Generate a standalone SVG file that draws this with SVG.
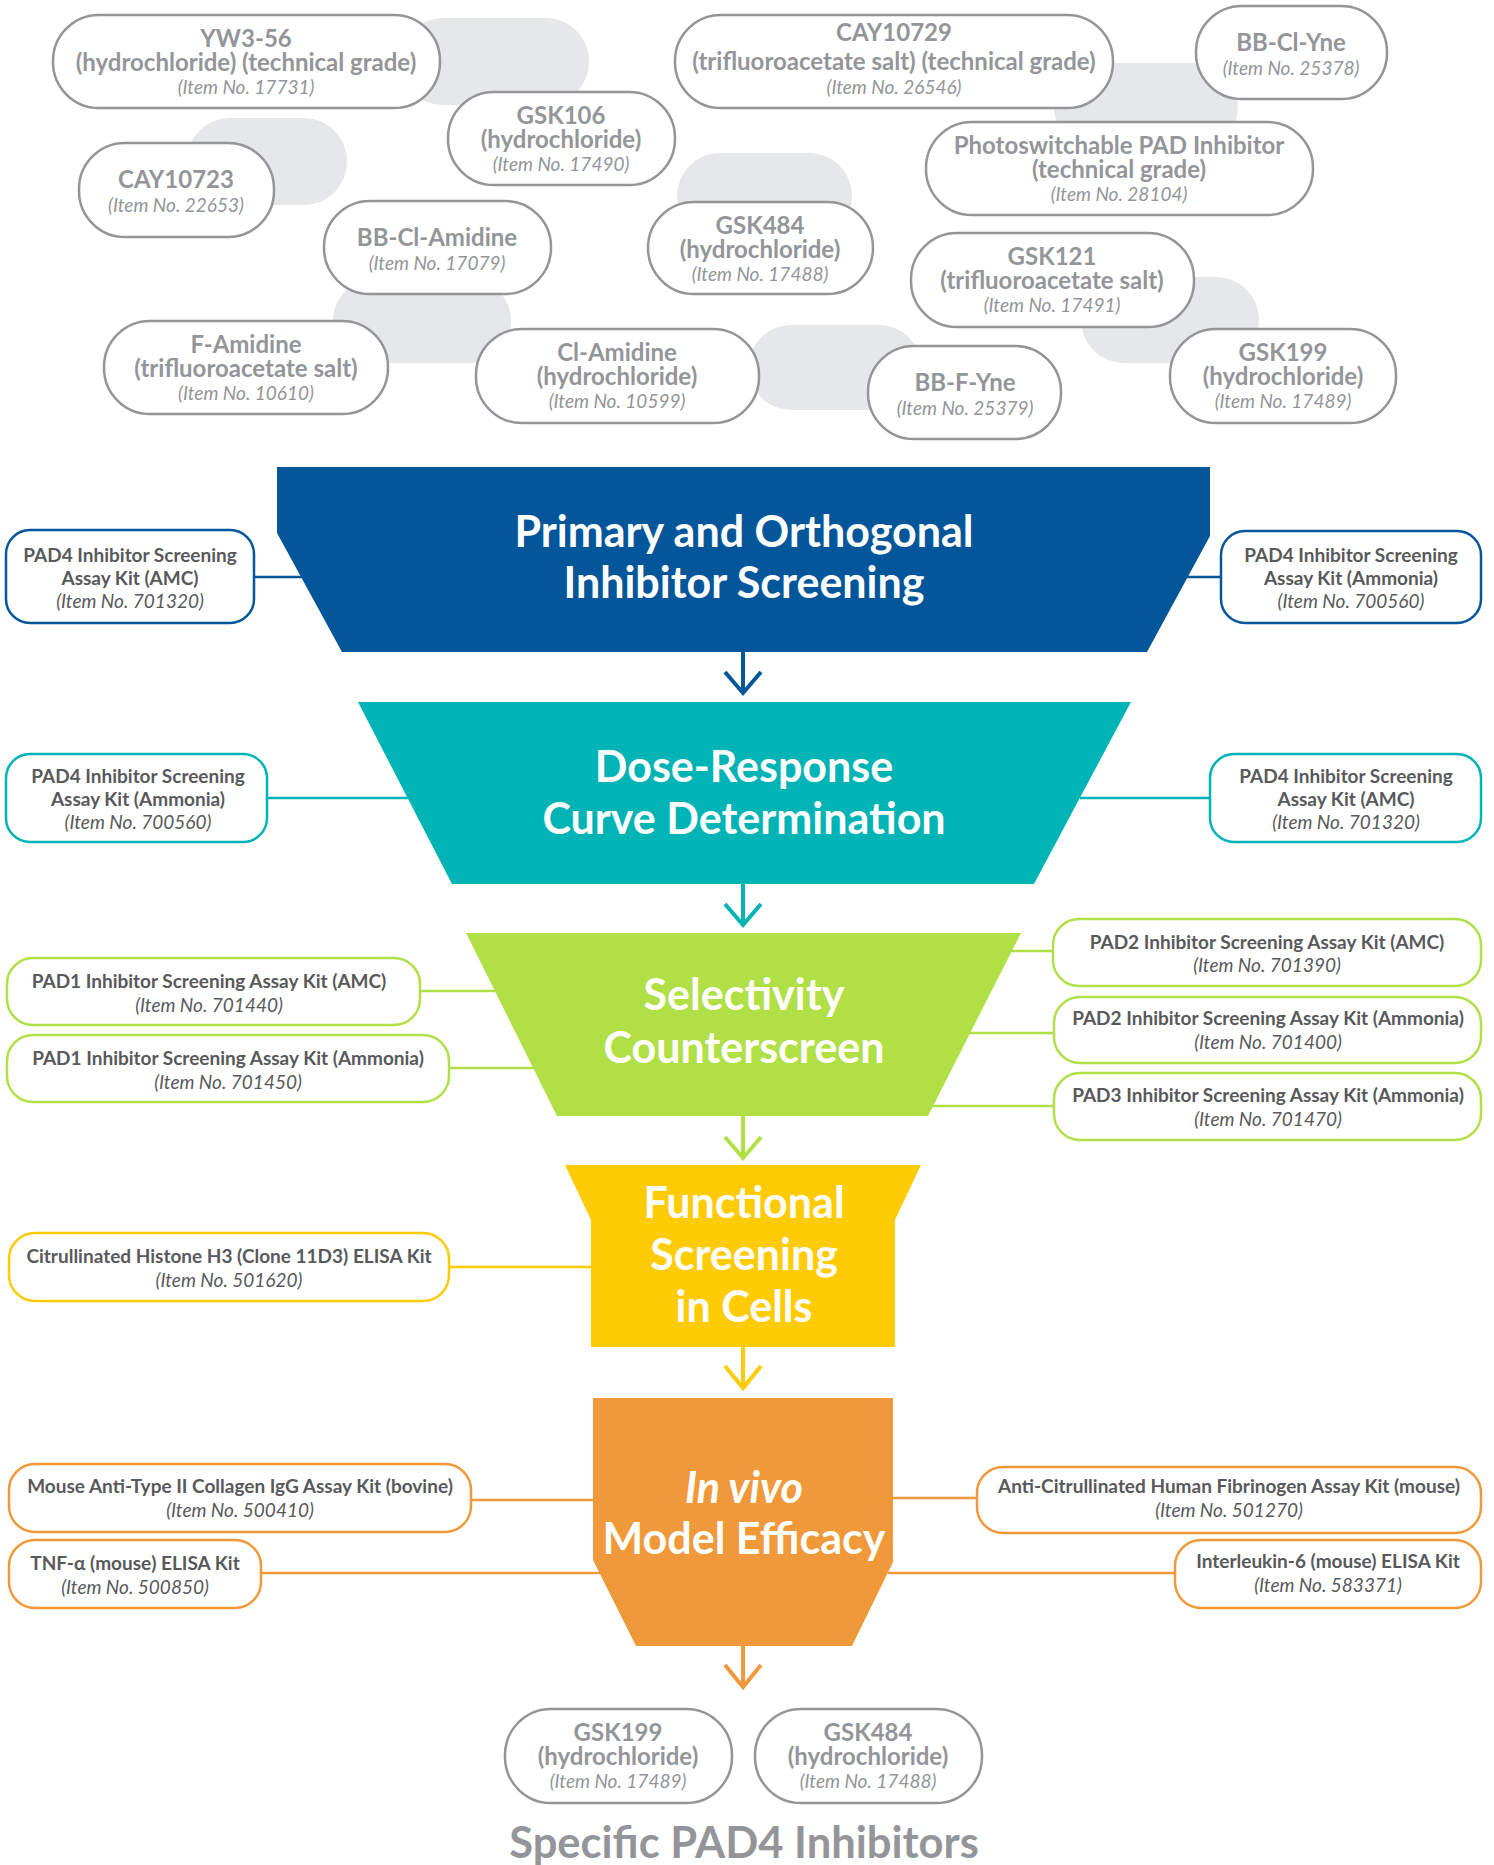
<svg xmlns="http://www.w3.org/2000/svg" width="1494" height="1865" viewBox="0 0 1494 1865">
<style>
.blob{fill:#e6e7e8}
.pill{fill:#fff;stroke:#939598;stroke-width:2.5}
.pn{font-family:Lato,"Liberation Sans",sans-serif;font-weight:700;font-size:24px;fill:#939598;text-anchor:middle}
.pi{font-family:Lato,"Liberation Sans",sans-serif;font-style:italic;font-size:19px;fill:#939598;text-anchor:middle}
.kn{font-family:Lato,"Liberation Sans",sans-serif;font-weight:700;font-size:19px;fill:#58595b;text-anchor:middle}
.ki{font-family:Lato,"Liberation Sans",sans-serif;font-style:italic;font-size:19px;fill:#58595b;text-anchor:middle}
.tt{font-family:Lato,"Liberation Sans",sans-serif;font-weight:700;font-size:43px;fill:#fff;text-anchor:middle}
.box{fill:#fff;stroke-width:2.5}
.blue{stroke:#04569a}.teal{stroke:#00b3b5}.green{stroke:#b0e045}.yellow{stroke:#ffcb05}.orange{stroke:#f0993a}
.ln{fill:none;stroke-width:2.5}
.ar{fill:none;stroke-width:4;stroke-linecap:butt}
</style>
<rect width="1494" height="1865" fill="#fff"/>

<g id="blobs">
<rect class="blob" x="400" y="18" width="189" height="87" rx="43"/>
<rect class="blob" x="187" y="118" width="160" height="87" rx="43"/>
<rect class="blob" x="333" y="280" width="178" height="83" rx="40"/>
<rect class="blob" x="677" y="153" width="175" height="87" rx="43"/>
<rect class="blob" x="1054" y="63" width="184" height="87" rx="43"/>
<rect class="blob" x="749" y="325" width="172" height="85" rx="42"/>
<rect class="blob" x="1081" y="277" width="178" height="86" rx="43"/>
</g>

<g id="connectors">
<line class="ln blue" x1="254" y1="577" x2="302" y2="577"/>
<line class="ln blue" x1="1187" y1="577" x2="1221" y2="577"/>
<line class="ln teal" x1="267" y1="798" x2="408" y2="798"/>
<line class="ln teal" x1="1080" y1="798" x2="1210" y2="798"/>
<line class="ln green" x1="420" y1="991" x2="496" y2="991"/>
<line class="ln green" x1="449" y1="1068" x2="534" y2="1068"/>
<line class="ln green" x1="1011" y1="951" x2="1053" y2="951"/>
<line class="ln green" x1="969" y1="1033" x2="1054" y2="1033"/>
<line class="ln green" x1="932" y1="1106" x2="1054" y2="1106"/>
<line class="ln yellow" x1="449" y1="1267" x2="592" y2="1267"/>
<line class="ln orange" x1="471" y1="1500" x2="594" y2="1500"/>
<line class="ln orange" x1="261" y1="1573" x2="600" y2="1573"/>
<line class="ln orange" x1="892" y1="1498" x2="977" y2="1498"/>
<line class="ln orange" x1="888" y1="1573" x2="1175" y2="1573"/>
<path class="ar blue" d="M743 652V692M725 672L743 693L761 672"/>
<path class="ar teal" d="M743 884V924M725 904L743 925L761 904"/>
<path class="ar green" d="M743 1116V1157M725 1137L743 1158L761 1137"/>
<path class="ar yellow" d="M743 1347V1387M725 1366L743 1388L761 1366"/>
<path class="ar orange" d="M743 1646V1686M725 1665L743 1687L761 1665"/>
</g>

<g id="yw3-56"><rect class="pill" x="53" y="15" width="387" height="93" rx="46"/>
<text class="pn" x="246" y="47">YW3-56</text><text class="pn" x="246" y="71">(hydrochloride) (technical grade)</text><text class="pi" x="246" y="94">(Item No. 17731)</text></g>
<g id="gsk106"><rect class="pill" x="448" y="92" width="227" height="93" rx="46"/>
<text class="pn" x="561" y="124">GSK106</text><text class="pn" x="561" y="148">(hydrochloride)</text><text class="pi" x="561" y="171">(Item No. 17490)</text></g>
<g id="cay10723"><rect class="pill" x="79" y="143" width="195" height="94" rx="46"/>
<text class="pn" x="176" y="188">CAY10723</text><text class="pi" x="176" y="212">(Item No. 22653)</text></g>
<g id="bb-cl-amidine"><rect class="pill" x="324" y="201" width="227" height="93" rx="46"/>
<text class="pn" x="437" y="246">BB-Cl-Amidine</text><text class="pi" x="437" y="270">(Item No. 17079)</text></g>
<g id="f-amidine"><rect class="pill" x="104" y="321" width="284" height="93" rx="46"/>
<text class="pn" x="246" y="353">F-Amidine</text><text class="pn" x="246" y="377">(trifluoroacetate salt)</text><text class="pi" x="246" y="400">(Item No. 10610)</text></g>
<g id="cl-amidine"><rect class="pill" x="476" y="329" width="283" height="94" rx="46"/>
<text class="pn" x="617" y="361">Cl-Amidine</text><text class="pn" x="617" y="385">(hydrochloride)</text><text class="pi" x="617" y="408">(Item No. 10599)</text></g>
<g id="cay10729"><rect class="pill" x="675" y="15" width="438" height="93" rx="46"/>
<text class="pn" x="894" y="41">CAY10729</text><text class="pn" x="894" y="70">(trifluoroacetate salt) (technical grade)</text><text class="pi" x="894" y="94">(Item No. 26546)</text></g>
<g id="gsk484"><rect class="pill" x="648" y="202" width="225" height="92" rx="46"/>
<text class="pn" x="760" y="234">GSK484</text><text class="pn" x="760" y="258">(hydrochloride)</text><text class="pi" x="760" y="281">(Item No. 17488)</text></g>
<g id="bb-cl-yne"><rect class="pill" x="1196" y="6" width="191" height="93" rx="46"/>
<text class="pn" x="1291" y="51">BB-Cl-Yne</text><text class="pi" x="1291" y="75">(Item No. 25378)</text></g>
<g id="photoswitchable"><rect class="pill" x="926" y="122" width="387" height="93" rx="46"/>
<text class="pn" x="1119" y="154">Photoswitchable PAD Inhibitor</text><text class="pn" x="1119" y="178">(technical grade)</text><text class="pi" x="1119" y="201">(Item No. 28104)</text></g>
<g id="gsk121"><rect class="pill" x="911" y="233" width="283" height="94" rx="46"/>
<text class="pn" x="1052" y="265">GSK121</text><text class="pn" x="1052" y="289">(trifluoroacetate salt)</text><text class="pi" x="1052" y="312">(Item No. 17491)</text></g>
<g id="gsk199"><rect class="pill" x="1170" y="329" width="226" height="94" rx="46"/>
<text class="pn" x="1283" y="361">GSK199</text><text class="pn" x="1283" y="385">(hydrochloride)</text><text class="pi" x="1283" y="408">(Item No. 17489)</text></g>
<g id="bb-f-yne"><rect class="pill" x="868" y="346" width="193" height="93" rx="46"/>
<text class="pn" x="965" y="391">BB-F-Yne</text><text class="pi" x="965" y="415">(Item No. 25379)</text></g>

<g id="stage1"><polygon points="277,467 1210,467 1210,536 1147,652 342,652 277,533" fill="#04569a"/>
<text class="tt" x="744" y="547">Primary and Orthogonal</text><text class="tt" x="744" y="598">Inhibitor Screening</text></g>
<g id="stage2"><polygon points="358,702 1131,702 1034,884 452,884" fill="#00b3b5"/>
<text class="tt" x="744" y="782">Dose-Response</text><text class="tt" x="744" y="834">Curve Determination</text></g>
<g id="stage3"><polygon points="466,933 1021,933 928,1116 557,1116" fill="#b0e045"/>
<text class="tt" x="744" y="1010">Selectivity</text><text class="tt" x="744" y="1063">Counterscreen</text></g>
<g id="stage4"><polygon points="565,1165 921,1165 895,1220 895,1347 591,1347 591,1220" fill="#ffcb05"/>
<text class="tt" x="744" y="1218">Functional</text><text class="tt" x="744" y="1270">Screening</text><text class="tt" x="744" y="1322">in Cells</text></g>
<g id="stage5"><polygon points="593,1398 893,1398 893,1562 852,1646 636,1646 593,1560" fill="#f0993a"/>
<text class="tt" x="744" y="1503" font-style="italic">In vivo</text><text class="tt" x="744" y="1554">Model Efficacy</text></g>

<g id="kit-s1-left"><rect class="box blue" x="6" y="530" width="248" height="93" rx="24"/>
<text class="kn" x="130" y="562">PAD4 Inhibitor Screening</text><text class="kn" x="130" y="585">Assay Kit (AMC)</text><text class="ki" x="130" y="608">(Item No. 701320)</text></g>
<g id="kit-s1-right"><rect class="box blue" x="1221" y="531" width="260" height="92" rx="24"/>
<text class="kn" x="1351" y="562">PAD4 Inhibitor Screening</text><text class="kn" x="1351" y="585">Assay Kit (Ammonia)</text><text class="ki" x="1351" y="608">(Item No. 700560)</text></g>
<g id="kit-s2-left"><rect class="box teal" x="6" y="754" width="261" height="88" rx="24"/>
<text class="kn" x="138" y="783">PAD4 Inhibitor Screening</text><text class="kn" x="138" y="806">Assay Kit (Ammonia)</text><text class="ki" x="138" y="829">(Item No. 700560)</text></g>
<g id="kit-s2-right"><rect class="box teal" x="1210" y="754" width="271" height="88" rx="24"/>
<text class="kn" x="1346" y="783">PAD4 Inhibitor Screening</text><text class="kn" x="1346" y="806">Assay Kit (AMC)</text><text class="ki" x="1346" y="829">(Item No. 701320)</text></g>
<g id="kit-pad1-amc"><rect class="box green" x="7" y="958" width="413" height="67" rx="26"/>
<text class="kn" x="209" y="988">PAD1 Inhibitor Screening Assay Kit (AMC)</text><text class="ki" x="209" y="1012">(Item No. 701440)</text></g>
<g id="kit-pad1-ammonia"><rect class="box green" x="7" y="1035" width="442" height="67" rx="26"/>
<text class="kn" x="228" y="1065">PAD1 Inhibitor Screening Assay Kit (Ammonia)</text><text class="ki" x="228" y="1089">(Item No. 701450)</text></g>
<g id="kit-pad2-amc"><rect class="box green" x="1053" y="919" width="428" height="67" rx="26"/>
<text class="kn" x="1267" y="949">PAD2 Inhibitor Screening Assay Kit (AMC)</text><text class="ki" x="1267" y="972">(Item No. 701390)</text></g>
<g id="kit-pad2-ammonia"><rect class="box green" x="1054" y="997" width="427" height="66" rx="26"/>
<text class="kn" x="1268" y="1025">PAD2 Inhibitor Screening Assay Kit (Ammonia)</text><text class="ki" x="1268" y="1049">(Item No. 701400)</text></g>
<g id="kit-pad3-ammonia"><rect class="box green" x="1054" y="1073" width="427" height="67" rx="26"/>
<text class="kn" x="1268" y="1102">PAD3 Inhibitor Screening Assay Kit (Ammonia)</text><text class="ki" x="1268" y="1126">(Item No. 701470)</text></g>
<g id="kit-histone"><rect class="box yellow" x="9" y="1233" width="440" height="68" rx="26"/>
<text class="kn" x="229" y="1263">Citrullinated Histone H3 (Clone 11D3) ELISA Kit</text><text class="ki" x="229" y="1287">(Item No. 501620)</text></g>
<g id="kit-collagen"><rect class="box orange" x="9" y="1464" width="462" height="68" rx="26"/>
<text class="kn" x="240" y="1493">Mouse Anti-Type II Collagen IgG Assay Kit (bovine)</text><text class="ki" x="240" y="1517">(Item No. 500410)</text></g>
<g id="kit-tnf"><rect class="box orange" x="9" y="1540" width="252" height="68" rx="26"/>
<text class="kn" x="135" y="1570">TNF-α (mouse) ELISA Kit</text><text class="ki" x="135" y="1594">(Item No. 500850)</text></g>
<g id="kit-fibrinogen"><rect class="box orange" x="977" y="1467" width="504" height="66" rx="26"/>
<text class="kn" x="1229" y="1493">Anti-Citrullinated Human Fibrinogen Assay Kit (mouse)</text><text class="ki" x="1229" y="1517">(Item No. 501270)</text></g>
<g id="kit-il6"><rect class="box orange" x="1175" y="1540" width="306" height="68" rx="26"/>
<text class="kn" x="1328" y="1568">Interleukin-6 (mouse) ELISA Kit</text><text class="ki" x="1328" y="1592">(Item No. 583371)</text></g>

<g id="result-gsk199"><rect class="pill" x="505" y="1709" width="227" height="94" rx="46"/>
<text class="pn" x="618" y="1741">GSK199</text><text class="pn" x="618" y="1765">(hydrochloride)</text><text class="pi" x="618" y="1788">(Item No. 17489)</text></g>
<g id="result-gsk484"><rect class="pill" x="755" y="1709" width="227" height="94" rx="46"/>
<text class="pn" x="868" y="1741">GSK484</text><text class="pn" x="868" y="1765">(hydrochloride)</text><text class="pi" x="868" y="1788">(Item No. 17488)</text></g>
<text id="caption" x="744" y="1858" style="font-family:Lato,'Liberation Sans',sans-serif;font-weight:700;font-size:43.5px;fill:#939598;text-anchor:middle">Specific PAD4 Inhibitors</text>
</svg>
